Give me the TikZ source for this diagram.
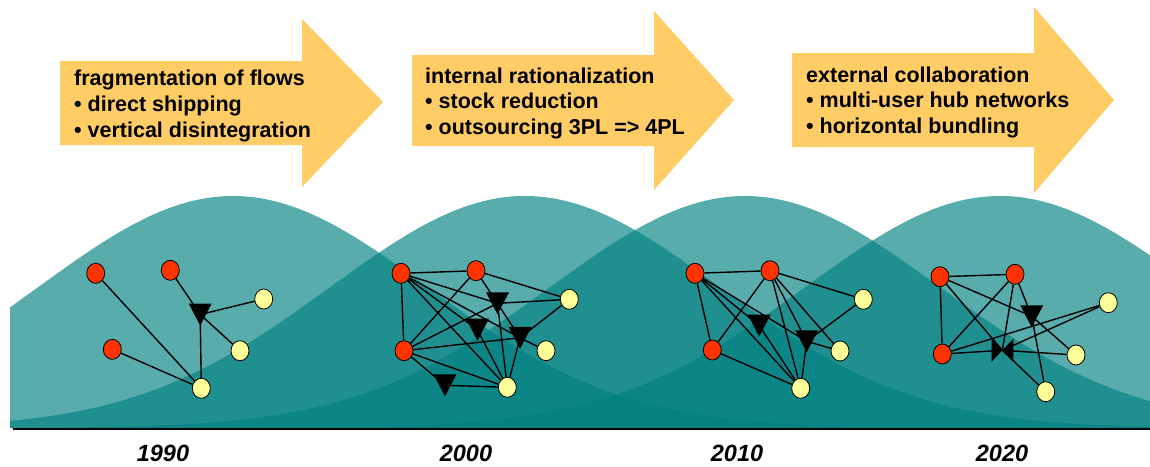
\documentclass[tikz,border=0pt]{standalone}
\usepackage{fontspec}
\setmainfont{Liberation Sans}
\usetikzlibrary{shapes.geometric}

\pgfdeclarelayer{hills}
\pgfdeclarelayer{links}
\pgfsetlayers{hills,links,main}

\definecolor{hillteal}{RGB}{0,128,128}
\definecolor{arrowgold}{RGB}{255,204,102}
\definecolor{srcred}{RGB}{255,51,0}
\definecolor{sinkyellow}{RGB}{255,255,153}

\tikzset{
  hill/.style={fill=hillteal, fill opacity=0.65},
  banner/.style={fill=arrowgold},
  caption/.style={anchor=base west, inner sep=0, font=\fontsize{21.5}{26}\selectfont\bfseries},
  year/.style={inner sep=0, font=\fontsize{23.5}{28}\selectfont\bfseries\itshape},
  src/.style={ellipse, draw, line width=0.8, fill=srcred, minimum width=18, minimum height=20, inner sep=0},
  sink/.style={src, fill=sinkyellow},
  link/.style={line width=1.4},
}

% downward pointing hub triangle around a named coordinate
\newcommand\hubtri[3]{%
  \coordinate (#1) at (#2,#3);
  \fill (#1) ++(-11.5,-11) -- ++(23,0) -- ++(-11.5,22) -- cycle;}
% one bell of the wave background
\newcommand\bell[1]{%
  \fill[hill] (10,428) -- plot[domain=10:1150,samples=160]
    (\x,{428-232*exp(-0.5*((\x-#1)/195)*((\x-#1)/195))}) -- (1150,428) -- cycle;}

\begin{document}
\begin{tikzpicture}[x=1pt,y=-1pt]
\useasboundingbox (0,0) rectangle (1150,466);

% ---------- background waves and time axis ----------
\begin{pgfonlayer}{hills}
  \bell{233}
  \bell{525}
  \bell{745}
  \bell{1000}
  \draw[line width=1.5] (13,429) -- (1150,429);
\end{pgfonlayer}

% ---------- phase arrows ----------
\fill[banner] (60,61) -- (302,61) -- (302,19) -- (383,102) -- (302,187) -- (302,145) -- (60,145) -- cycle;
\fill[banner] (412,55) -- (654,55) -- (654,11) -- (734,100) -- (654,190) -- (654,146) -- (412,146) -- cycle;
\fill[banner] (792,53) -- (1034,53) -- (1034,7) -- (1114,100) -- (1034,193) -- (1034,147) -- (792,147) -- cycle;

\node[caption] (p1h) at (74,85)  {fragmentation of flows};
\node[caption] (p1a) at (74,111) {• direct shipping};
\node[caption] (p1b) at (74,137) {• vertical disintegration};

\node[caption] (p2h) at (425,83)  {internal rationalization};
\node[caption] (p2a) at (425,108) {• stock reduction};
\node[caption] (p2b) at (425,134) {• outsourcing 3PL => 4PL};

\node[caption] (p3h) at (806,82)  {external collaboration};
\node[caption] (p3a) at (806,107) {• multi-user hub networks};
\node[caption] (p3b) at (806,133) {• horizontal bundling};

% ---------- years ----------
\node[year] (y1990) at (163,453) {1990};
\node[year] (y2000) at (466,453) {2000};
\node[year] (y2010) at (737,453) {2010};
\node[year] (y2020) at (1002,453) {2020};

% ---------- 1990 network ----------
\node[src]  (a1) at (95.7,273.3) {};
\node[src]  (a2) at (170.3,270.3) {};
\node[src]  (a3) at (112.3,349.3) {};
\node[sink] (a4) at (263.7,299) {};
\node[sink] (a5) at (240,350.7) {};
\node[sink] (a6) at (201.3,388.3) {};
\hubtri{at1}{200.2}{314.5}

% ---------- 2000 network ----------
\node[src]  (b1) at (401,273.3) {};
\node[src]  (b2) at (476,270.7) {};
\node[src]  (b3) at (404,350.7) {};
\node[sink] (b4) at (569.3,299.3) {};
\node[sink] (b5) at (546,350.7) {};
\node[sink] (b6) at (507.3,387.3) {};
\hubtri{bt1}{497.5}{303.3}
\hubtri{bt2}{477.5}{329.7}
\hubtri{bt3}{520}{337.8}
\hubtri{bt4}{445}{385.3}

% ---------- 2010 network ----------
\node[src]  (c1) at (695,273.3) {};
\node[src]  (c2) at (770,270.7) {};
\node[src]  (c3) at (712.3,350) {};
\node[sink] (c4) at (863.3,299.3) {};
\node[sink] (c5) at (840,351) {};
\node[sink] (c6) at (800.7,388.3) {};
\hubtri{ct1}{759.2}{325.5}
\hubtri{ct2}{806.7}{341.3}

% ---------- 2020 network ----------
\node[src]  (d1) at (940,276.7) {};
\node[src]  (d2) at (1015,274.3) {};
\node[src]  (d3) at (942.3,354) {};
\node[sink] (d4) at (1108.3,302.7) {};
\node[sink] (d5) at (1076,355) {};
\node[sink] (d6) at (1045.7,391.7) {};
\hubtri{dt1}{1031.7}{316.3}
% bundling hub: two triangles meeting at their tips
\coordinate (bow) at (1002.3,350.3);
\fill (bow) -- ++(-10.6,-11.3) -- ++(0,22.6) -- cycle;
\fill (bow) -- ++(11,-11.3) -- ++(0,22.6) -- cycle;

% ---------- links ----------
\begin{pgfonlayer}{links}
  \draw[link] (a1) -- (a6) (a3) -- (a6) (a2) -- (at1)
              (at1) -- (a4) (at1) -- (a5) (at1) -- (a6);

  \draw[link] (b1) -- (b2) (b1) -- (b3) (b1) -- (bt1) (b1) -- (bt2) (b1) -- (bt3) (b1) -- (b6)
              (b2) -- (b4) (b2) -- (b3) (b2) -- (bt3)
              (b3) -- (bt1) (b3) -- (bt3) (b3) -- (b6) (b3) -- (bt4)
              (bt1) -- (b4) (bt1) -- (b6) (bt2) -- (b6)
              (bt3) -- (b5) (bt3) -- (b4) (bt3) -- (b6) (bt4) -- (b6);

  \draw[link] (c1) -- (c2) (c1) -- (c3) (c1) -- (ct1) (c1) -- (ct2) (c1) -- (c6)
              (c2) -- (c3) (c2) -- (c4) (c2) -- (c6) (c2) -- (ct2) (c2) -- (c5)
              (c3) -- (c6) (ct1) -- (c6) (ct2) -- (c4) (ct2) -- (c5) (ct2) -- (c6);

  \draw[link] (d1) -- (d2) (d1) -- (d3) (d1) -- (dt1) (d1) -- (bow)
              (d2) -- (d3) (d2) -- (bow) (d2) -- (dt1)
              (d3) -- (d4) (d3) -- (bow)
              (bow) -- (d4) (bow) -- (d5) (bow) -- (d6)
              (dt1) -- (d5) (dt1) -- (d6);
\end{pgfonlayer}
\end{tikzpicture}
\end{document}
